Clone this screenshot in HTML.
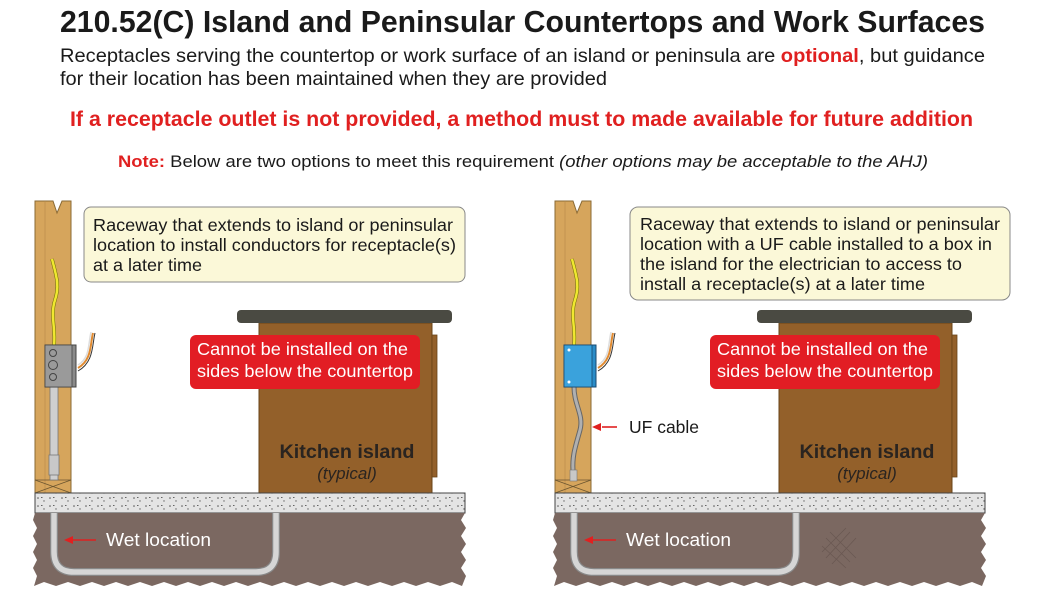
<!DOCTYPE html>
<html><head><meta charset="utf-8"><style>
html,body{margin:0;padding:0;background:#fff}
svg{display:block}
text{font-family:"Liberation Sans Narrow","Liberation Sans",sans-serif}
.s{font-family:"Liberation Sans",sans-serif}
</style></head><body>
<svg width="1043" height="611" viewBox="0 0 1043 611" xmlns="http://www.w3.org/2000/svg">
<defs>
<pattern id="dots" width="12" height="8" patternUnits="userSpaceOnUse">
<rect width="12" height="8" fill="#e4e4e4"/>
<circle cx="2" cy="2" r="0.8" fill="#555"/><circle cx="8" cy="5" r="0.7" fill="#666"/><rect x="5" y="1" width="1.5" height="0.8" fill="#444"/>
</pattern>
<g id="panel">
<path d="M35 201 L35 493 L71 493 L71 201 L62 201 L57 213 L53 201 Z" fill="#d6a55c" stroke="#8a6a35" stroke-width="1"/>
<line x1="45" y1="201" x2="45" y2="493" stroke="#b8894a" stroke-width="0.6"/>
<path d="M35 480 L71 493 M71 480 L35 493" stroke="#6b5530" stroke-width="0.8"/>
<line x1="35" y1="480" x2="71" y2="480" stroke="#6b5530" stroke-width="0.8"/>
<path d="M52 259 C56 275 60 285 55 300 C50 315 56 330 54 345" fill="none" stroke="#6b6b00" stroke-width="3.5"/>
<path d="M52 259 C56 275 60 285 55 300 C50 315 56 330 54 345" fill="none" stroke="#f0e830" stroke-width="2.5"/>
<path d="M93 333 C90 345 92 360 78 368" fill="none" stroke="#e08a30" stroke-width="2"/>
<path d="M91 332 C88 345 90 358 78 365" fill="none" stroke="#ddd" stroke-width="1.5"/>
<path d="M95 333 C92 345 94 362 78 371" fill="none" stroke="#333" stroke-width="1"/>
<rect x="259" y="323" width="173" height="170" fill="#93602a" stroke="#6a4418" stroke-width="1"/>
<rect x="432" y="335" width="5" height="142" fill="#93602a" stroke="#6a4418" stroke-width="0.8"/>
<rect x="237" y="310" width="215" height="13" rx="4" fill="#4a4a42"/>
<text x="347" y="458" text-anchor="middle" class="s" font-size="19" font-weight="bold" fill="#2a2420" textLength="135" lengthAdjust="spacingAndGlyphs">Kitchen island</text>
<text x="347" y="479" text-anchor="middle" class="s" font-size="17" font-style="italic" fill="#2a2420">(typical)</text>
<rect x="35" y="493" width="430" height="20" fill="url(#dots)" stroke="#444" stroke-width="1"/>
<path d="M35 513 L465 513 L461 520 L466 528 L461 536 L466 544 L461 552 L466 560 L461 568 L466 576 L462 586 L452 582 L440 586 L428 582 L416 586 L404 582 L392 586 L380 582 L368 586 L356 582 L344 586 L332 582 L320 586 L308 582 L296 586 L284 582 L272 586 L260 582 L248 586 L236 582 L224 586 L212 582 L200 586 L188 582 L176 586 L164 582 L152 586 L140 582 L128 586 L116 582 L104 586 L92 582 L80 586 L68 582 L56 586 L44 582 L34 586 L37 576 L33 568 L37 560 L33 552 L37 544 L33 536 L37 528 L33 520 Z" fill="#7b6861"/>
<path d="M54 513 L54 552 Q54 572 74 572 L256 572 Q276 572 276 552 L276 513" fill="none" stroke="#888" stroke-width="8"/>
<path d="M54 513 L54 552 Q54 572 74 572 L256 572 Q276 572 276 552 L276 513" fill="none" stroke="#d6d6d6" stroke-width="5.5"/>
<path d="M64 540 L73 536 L73 544 Z" fill="#e02020"/><line x1="70" y1="540" x2="96" y2="540" stroke="#e02020" stroke-width="1.6"/>
<text x="106" y="546" class="s" font-size="18" fill="#fff" textLength="105" lengthAdjust="spacingAndGlyphs">Wet location</text>
<rect x="190" y="335" width="230" height="54" rx="6" fill="#e21d24"/>
<text x="197" y="355" class="s" font-size="17.5" fill="#fff" textLength="211" lengthAdjust="spacingAndGlyphs">Cannot be installed on the</text>
<text x="197" y="377" class="s" font-size="17.5" fill="#fff" textLength="216" lengthAdjust="spacingAndGlyphs">sides below the countertop</text>
</g>
</defs>

<text x="60" y="32" font-size="31" font-weight="bold" fill="#1a1a1a" textLength="925" lengthAdjust="spacingAndGlyphs">210.52(C) Island and Peninsular Countertops and Work Surfaces</text>
<text x="60" y="62" font-size="19.5" fill="#1a1a1a" textLength="925" lengthAdjust="spacingAndGlyphs">Receptacles serving the countertop or work surface of an island or peninsula are <tspan fill="#e02020" font-weight="bold">optional</tspan>, but guidance</text>
<text x="60" y="85" font-size="19.5" fill="#1a1a1a" textLength="547" lengthAdjust="spacingAndGlyphs">for their location has been maintained when they are provided</text>
<text x="70" y="126" font-size="21" font-weight="bold" fill="#e02020" textLength="903" lengthAdjust="spacingAndGlyphs">If a receptacle outlet is not provided, a method must to made available for future addition</text>
<text x="118" y="167" font-size="16.5" fill="#1a1a1a" textLength="810" lengthAdjust="spacingAndGlyphs"><tspan fill="#e02020" font-weight="bold">Note:</tspan> Below are two options to meet this requirement <tspan font-style="italic">(other options may be acceptable to the AHJ)</tspan></text>

<use href="#panel"/>
<rect x="84" y="207" width="381" height="75" rx="7" fill="#fbf8d8" stroke="#888" stroke-width="1"/>
<text x="93" y="231" class="s" font-size="17.5" fill="#1a1a1a" textLength="360" lengthAdjust="spacingAndGlyphs">Raceway that extends to island or peninsular</text>
<text x="93" y="251" class="s" font-size="17.5" fill="#1a1a1a" textLength="363" lengthAdjust="spacingAndGlyphs">location to install conductors for receptacle(s)</text>
<text x="93" y="271" class="s" font-size="17.5" fill="#1a1a1a" textLength="109" lengthAdjust="spacingAndGlyphs">at a later time</text>
<rect x="50" y="387" width="8" height="93" fill="#cfcfcf" stroke="#777" stroke-width="0.8"/>
<rect x="49" y="455" width="10" height="20" fill="#c8c8c8" stroke="#777" stroke-width="0.8"/>
<rect x="45" y="345" width="31" height="42" fill="#8a8a8a" stroke="#444" stroke-width="1"/>
<rect x="45" y="345" width="27" height="42" fill="#9a9a9a" stroke="#444" stroke-width="0.8"/>
<circle cx="53" cy="353" r="3.5" fill="none" stroke="#444"/><circle cx="53" cy="365" r="4.5" fill="none" stroke="#444"/><circle cx="53" cy="377" r="3.5" fill="none" stroke="#444"/>

<use href="#panel" x="520"/>
<rect x="630" y="207" width="380" height="93" rx="8" fill="#fbf8d8" stroke="#888" stroke-width="1"/>
<text x="640" y="230" class="s" font-size="17.5" fill="#1a1a1a" textLength="360" lengthAdjust="spacingAndGlyphs">Raceway that extends to island or peninsular</text>
<text x="640" y="250" class="s" font-size="17.5" fill="#1a1a1a" textLength="352" lengthAdjust="spacingAndGlyphs">location with a UF cable installed to a box in</text>
<text x="640" y="270" class="s" font-size="17.5" fill="#1a1a1a" textLength="322" lengthAdjust="spacingAndGlyphs">the island for the electrician to access to</text>
<text x="640" y="290" class="s" font-size="17.5" fill="#1a1a1a" textLength="285" lengthAdjust="spacingAndGlyphs">install a receptacle(s) at a later time</text>
<path d="M574 387 C574 405 584 415 580 430 C576 445 572 455 573 470" fill="none" stroke="#666" stroke-width="5"/>
<path d="M574 387 C574 405 584 415 580 430 C576 445 572 455 573 470" fill="none" stroke="#b0b0b0" stroke-width="3"/>
<rect x="570" y="470" width="7" height="11" fill="#c8c8c8" stroke="#777" stroke-width="0.6"/>
<rect x="564" y="345" width="32" height="42" fill="#2a8cc8" stroke="#1a4a70" stroke-width="1"/>
<rect x="564" y="345" width="28" height="42" fill="#3aa2dc" stroke="#1a4a70" stroke-width="0.8"/>
<circle cx="569" cy="350" r="1.5" fill="#fff"/><circle cx="569" cy="382" r="1.5" fill="#fff"/>
<path d="M602 427 L617 427" stroke="#e02020" stroke-width="1.6"/><path d="M592 427 L601 423 L601 431 Z" fill="#e02020"/>
<text x="629" y="433" class="s" font-size="17.5" fill="#1a1a1a">UF cable</text>
<g stroke="#6a5852" stroke-width="0.8"><path d="M826 538 L850 562 M830 532 L856 558 M822 546 L846 568 M850 532 L826 558 M856 538 L832 564 M846 528 L822 552"/></g>
</svg>
</body></html>
